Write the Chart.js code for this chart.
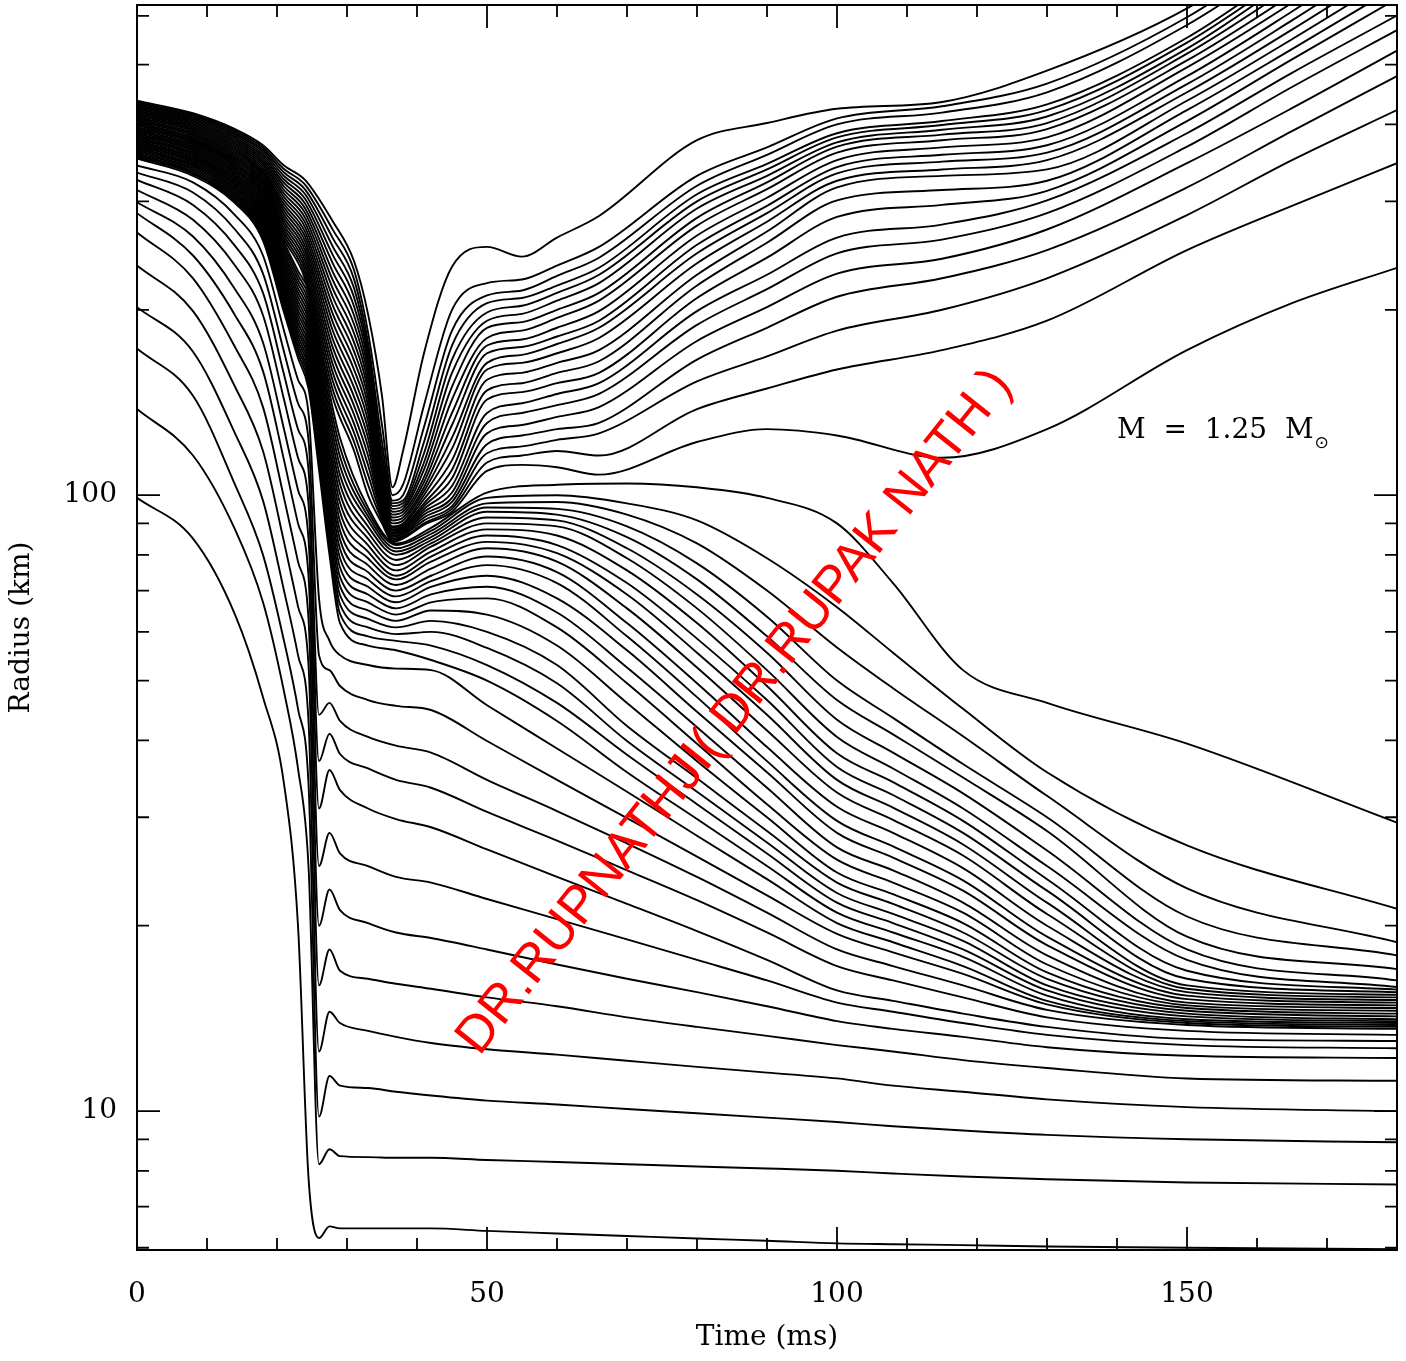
<!DOCTYPE html>
<html>
<head>
<meta charset="utf-8">
<title>Mass shell trajectories, M = 1.25 Msun</title>
<script src="https://cdn.jsdelivr.net/npm/chart.js@4.4.0/dist/chart.umd.min.js"></script>
<style>
  html, body { margin: 0; padding: 0; background: #fff; }
  #wrap { width: 1406px; height: 1361px; }
</style>
</head>
<body>
<div id="wrap"><canvas id="chart"></canvas></div>
<script>
// time samples (ms) for the shells that end up in the core
const innerTimes = [0, 8, 14, 18, 21, 23, 24.5, 26, 27.5, 29, 33, 37, 42, 50, 60, 70, 80, 90, 100, 108, 118, 130, 150, 180];

// radius (km) of each inner shell, innermost first
const innerShells = [
  [99, 85, 64, 47, 34, 20, 7.8, 6.22, 6.5, 6.45, 6.45, 6.45, 6.45, 6.39, 6.33, 6.27, 6.21, 6.16, 6.1, 6.08, 6.06, 6.03, 6.0, 5.97],
  [138, 116, 88, 67, 48, 36, 25, 8.2, 8.67, 8.45, 8.42, 8.4, 8.4, 8.33, 8.27, 8.2, 8.13, 8.07, 8.0, 7.92, 7.83, 7.75, 7.66, 7.6],
  [173, 145, 104, 80, 58, 45, 34, 9.8, 11.4, 11.0, 10.9, 10.75, 10.6, 10.4, 10.25, 10.08, 9.92, 9.76, 9.6, 9.45, 9.3, 9.15, 9.0, 8.9],
  [202, 171, 126, 98, 70, 55, 43, 12.5, 14.5, 13.9, 13.5, 13.2, 12.9, 12.6, 12.35, 12.07, 11.8, 11.55, 11.3, 11.0, 10.75, 10.45, 10.15, 10.0],
  [236, 199, 150, 118, 84, 66, 53, 16, 18.3, 16.9, 16.4, 16.1, 15.8, 15.3, 14.8, 14.2, 13.7, 13.25, 12.8, 12.5, 12.1, 11.75, 11.3, 11.2],
  [267, 225, 174, 139, 99, 78, 63, 20, 22.9, 21.2, 20.2, 19.5, 19.1, 18.3, 17.3, 16.4, 15.6, 14.8, 14.0, 13.6, 13.2, 12.7, 12.3, 12.2],
  [287, 245, 196, 159, 114, 90, 74, 25, 28.3, 26.2, 25, 24, 23.5, 22.1, 20.5, 19.0, 17.6, 16.3, 15.0, 14.5, 13.9, 13.3, 12.8, 12.65],
  [299, 263, 216, 177, 128, 102, 85, 31, 35.8, 33.2, 31, 29.8, 28.9, 26.6, 24.0, 21.7, 19.6, 17.6, 15.7, 15.1, 14.4, 13.7, 13.1, 13.0],
  [313, 280, 236, 196, 143, 115, 97, 37, 41, 38, 36, 34.5, 33.5, 30.6, 27.5, 24.6, 22.0, 19.5, 17.2, 16.3, 15.3, 14.2, 13.5, 13.3],
  [325, 296, 254, 213, 157, 128, 110, 44, 46, 43, 40.5, 39.2, 38.2, 34.5, 30.7, 27.2, 24.0, 21.0, 18.3, 17.2, 16.0, 14.6, 13.8, 13.6],
  [334, 310, 270, 229, 171, 141, 123, 55, 52, 49, 46.5, 45.5, 44.8, 39.9, 34.5, 29.9, 25.9, 22.4, 19.4, 18.1, 16.7, 14.9, 13.9, 13.7],
  [343, 322, 285, 245, 185, 154, 136, 68, 58, 55, 53, 52.3, 52, 45.6, 38.8, 33.0, 28.0, 23.8, 20.2, 18.8, 17.2, 15.1, 14.0, 13.8],
  [352, 330, 298, 259, 198, 167, 149, 110, 80, 62, 57, 56, 54, 50, 43, 35.5, 29.8, 25.0, 21.0, 19.5, 17.8, 15.4, 14.1, 13.9],
  [353.8, 332.0, 299.9, 261.1, 200.6, 169.8, 151.8, 112.7, 82.4, 64.2, 59, 58, 57, 53, 46, 37.9, 31.5, 26.2, 21.8, 20.2, 18.3, 15.7, 14.25, 14.0],
  [355.6, 333.8, 301.9, 263.3, 203.2, 172.6, 154.6, 115.4, 84.9, 66.5, 61, 59.5, 60, 56.5, 49.5, 39.9, 33.0, 27.3, 22.6, 20.9, 18.9, 16.0, 14.4, 14.1],
  [357.4, 335.7, 303.9, 265.6, 205.9, 175.4, 157.4, 118.3, 87.5, 68.8, 63, 61, 62.5, 60, 53, 42.2, 34.7, 28.5, 23.5, 21.7, 19.5, 16.4, 14.55, 14.25],
  [359.3, 337.6, 305.9, 267.8, 208.6, 178.3, 160.3, 121.2, 90.2, 71.2, 65, 62.5, 65, 64, 57, 46, 37, 30, 24.4, 22.5, 20.2, 16.8, 14.7, 14.4],
  [361.1, 339.5, 307.9, 270.1, 211.4, 181.2, 163.3, 124.1, 93.0, 73.7, 67, 64, 67, 68, 61, 49.5, 39.5, 31.5, 25.6, 23.5, 21.0, 17.3, 14.85, 14.55],
  [363.0, 341.4, 309.9, 272.4, 214.2, 184.2, 166.3, 127.2, 95.8, 76.3, 69, 65.5, 69, 71, 64.5, 52.5, 42, 33.5, 26.8, 24.6, 21.8, 17.9, 15.0, 14.7],
  [364.9, 343.3, 312.0, 274.8, 217.0, 187.2, 169.3, 130.3, 98.8, 79.0, 71, 67, 71, 74, 68, 56, 44.5, 35.5, 28.3, 25.8, 22.8, 18.6, 15.2, 14.85],
  [366.8, 345.2, 314.0, 277.1, 219.8, 190.3, 172.5, 133.5, 101.8, 81.8, 73, 68.5, 72.5, 77, 72, 59, 47, 37, 29.6, 26.9, 23.7, 19.2, 15.4, 15.0],
  [368.7, 347.1, 316.1, 279.5, 222.7, 193.4, 175.6, 136.8, 104.9, 84.7, 75, 70, 74, 79.5, 75, 62, 49.5, 39, 31.2, 28.3, 24.8, 20.0, 15.6, 15.15],
  [370.6, 349.0, 318.2, 281.9, 225.7, 196.6, 178.9, 140.1, 108.2, 87.6, 77, 71.5, 76, 82, 78, 65.5, 52.5, 41.5, 32.9, 29.7, 26.0, 20.9, 15.8, 15.3],
  [372.5, 351.0, 320.3, 284.3, 228.6, 199.8, 182.2, 143.6, 111.5, 90.7, 79, 73, 78, 84, 80.5, 69, 55.5, 44, 34.5, 31.1, 27.1, 21.8, 16.0, 15.45],
  [374.4, 352.9, 322.4, 286.7, 231.6, 203.1, 185.5, 147.1, 114.9, 93.9, 81, 74, 79.5, 86, 83, 72, 58.5, 46.5, 36.2, 32.6, 28.3, 22.8, 16.4, 15.6],
  [376.3, 354.9, 324.6, 289.1, 234.7, 206.4, 188.9, 150.7, 118.4, 97.2, 83, 75.5, 81, 88, 86, 75.5, 62, 49, 38.1, 34.2, 29.6, 23.8, 16.9, 15.75],
  [378.3, 356.9, 326.7, 291.6, 237.8, 209.8, 192.4, 154.4, 122.0, 100.6, 85, 77, 82.5, 90, 89, 79, 65.5, 52, 40.5, 36.0, 31.0, 25, 17.6, 15.9],
  [380.2, 358.9, 328.9, 294.1, 240.9, 213.2, 196.0, 158.2, 125.8, 104.2, 87, 78.5, 83.5, 92, 91, 82, 69, 55.5, 43.2, 38.2, 32.8, 26.5, 18.3, 16.3],
  [382.2, 360.9, 331.1, 296.6, 244.1, 216.7, 199.6, 162.0, 129.6, 107.8, 89, 80, 84.5, 94, 93, 85.5, 73, 59, 46.5, 40.9, 34.8, 28.5, 19.2, 17.0],
  [384.2, 362.9, 333.3, 299.1, 247.3, 220.3, 203.3, 166.0, 133.6, 111.6, 91, 81, 85.5, 95.5, 95, 89, 77.5, 63.5, 50, 43.5, 36.6, 30, 20.7, 17.9],
  [386.2, 364.9, 335.5, 301.7, 250.6, 223.9, 207.0, 170.1, 137.7, 115.6, 92.5, 82, 86.5, 97, 97.5, 93, 83.5, 70, 56.6, 48.6, 40.6, 32.5, 23, 18.8],
  [388.2, 367.0, 337.7, 304.3, 253.9, 227.6, 210.8, 174.2, 141.9, 119.6, 94, 83, 87.5, 99, 100, 97, 91, 79, 65.8, 55.5, 45, 35.5, 27, 21.3],
  [390.2, 369.0, 339.9, 306.9, 257.2, 231.3, 214.7, 178.5, 146.3, 123.8, 95.5, 83.5, 88.5, 101, 104, 104.5, 103, 99, 90, 72, 52, 46, 39.5, 29.4]
];

// time samples (ms) for the shells that are pushed out
const outerTimes = [0, 8, 14, 18, 21, 24, 28, 31, 33, 35, 36.5, 38, 41, 45, 50, 55, 60, 66, 80, 90, 100, 115, 130, 150, 165, 180];

// radius (km) of each outer shell, outermost first
const outerShells = [
  [437, 417, 393, 370, 343, 325, 278, 240, 197, 145, 103, 118, 170, 235, 253, 244, 262, 284, 377, 402, 424, 435, 489, 617, 800, 1060],
  [434.8, 414.7, 390.4, 366.9, 338.5, 319.3, 269.4, 232.0, 184, 130, 100, 104, 140, 200, 221, 224, 236, 253, 330, 367, 409, 428, 466, 597, 775, 1020],
  [432.5, 412.4, 387.8, 363.8, 334.1, 313.7, 261.0, 224.3, 177, 122, 98, 100, 129, 185, 211, 215, 227, 243, 318, 357, 400, 418, 451, 580, 750, 990],
  [430.3, 410.1, 385.3, 360.7, 329.8, 308.3, 252.9, 216.9, 172, 117, 97, 98, 122, 175, 205, 209, 219, 234, 308, 345, 387, 405, 431, 553, 720, 955],
  [428.1, 407.8, 382.8, 357.6, 325.5, 302.9, 245.1, 209.7, 168, 113, 96, 97, 117, 166, 198, 203, 213, 228, 300, 338, 381, 399, 422, 543, 705, 930],
  [425.9, 405.6, 380.2, 354.6, 321.3, 297.6, 237.5, 202.7, 164, 110, 95, 96, 113, 158, 192, 197, 207, 221, 292, 330, 374, 392, 412, 531, 690, 905],
  [423.7, 403.3, 377.7, 351.6, 317.1, 292.4, 230.1, 196.0, 160, 108, 94, 95, 110, 150, 187, 191, 200, 213, 282, 322, 368, 385, 402, 521, 670, 880],
  [421.5, 401.1, 375.2, 348.6, 313.0, 287.3, 223.0, 189.5, 156, 106, 93, 94, 107, 143, 180, 185, 194, 207, 274, 314, 360, 377, 393, 508, 650, 850],
  [419.4, 398.9, 372.8, 345.7, 308.9, 282.3, 216.1, 183.2, 152, 104.5, 92, 93, 105, 136, 175, 179, 187, 199, 264, 304, 350, 367, 381, 495, 630, 820],
  [417.2, 396.7, 370.3, 342.7, 304.9, 277.3, 209.4, 177.1, 148, 103, 91, 92, 103, 130, 170, 174, 181, 192, 255, 295, 341, 357, 370, 479, 610, 790],
  [415.1, 394.5, 367.9, 339.8, 300.9, 272.5, 202.9, 171.2, 144, 101.5, 90, 91, 101.5, 124, 164, 169, 176, 187, 247, 287, 333, 348, 360, 465, 590, 760],
  [412.9, 392.3, 365.5, 336.9, 297.0, 267.7, 196.6, 165.5, 140, 100, 89, 90, 100, 119, 160, 164, 170, 180, 238, 278, 324, 338, 350, 451, 570, 730],
  [410.8, 390.1, 363.1, 334.1, 293.2, 263.1, 190.5, 160.0, 136, 99, 88.5, 89.5, 98.5, 114, 154, 158, 164, 172, 228, 268, 316, 330, 338, 437, 550, 700],
  [408.7, 387.9, 360.7, 331.3, 289.4, 258.5, 184.6, 154.7, 132, 98, 88, 89, 97, 110, 148, 152, 158, 165, 219, 257, 301, 313, 324, 422, 530, 670],
  [406.6, 385.8, 358.3, 328.5, 285.6, 254.0, 178.8, 149.6, 128, 97, 87.5, 88.5, 96, 106.5, 143, 147, 152, 158, 209, 243, 283, 296, 312, 405, 510, 640],
  [404.5, 383.7, 356.0, 325.7, 281.9, 249.5, 173.3, 144.6, 124, 96, 87, 88, 95, 103.5, 136, 141, 146, 152, 199, 228, 262, 275, 301, 387, 485, 601],
  [402.4, 381.5, 353.6, 322.9, 278.2, 245.2, 167.9, 139.8, 120, 95, 86.5, 87.5, 94, 101, 131, 136, 140, 146, 189, 216, 247, 260, 287, 368, 460, 569],
  [400.3, 379.4, 351.3, 320.2, 274.6, 240.9, 162.7, 135.2, 116, 94, 86, 87, 93, 99, 126, 130, 134, 139, 178, 202, 229, 242, 270, 346, 425, 527],
  [398.3, 377.3, 349.0, 317.5, 271.0, 236.7, 157.7, 130.7, 112, 93, 85.5, 86.5, 92, 97.5, 121, 125, 128, 131, 166, 187, 210, 225, 250, 316, 390, 479],
  [396.2, 375.2, 346.7, 314.8, 267.5, 232.6, 152.8, 126.3, 108, 92, 85, 86, 91, 96, 117, 120, 123, 126, 153, 168, 185, 200, 225, 285, 350, 422],
  [394.2, 373.1, 344.4, 312.1, 264.0, 228.5, 148.0, 122.1, 104, 91, 84.5, 85.5, 90, 95, 113, 116, 118, 116, 138, 149, 160, 172, 192, 250, 295, 346],
  [392.2, 371.1, 342.2, 309.5, 260.6, 224.5, 143.5, 118.1, 100, 90, 84, 85, 89.5, 94, 109.5, 112, 111, 108, 122, 128, 125, 115, 128, 172, 205, 234]
];

// labelled ticks
const timeTicks = [0, 50, 100, 150];
const radiusTicks = [10, 100];
// small tick marks on the log axis
const radiusMarks = [6, 7, 8, 9, 10, 20, 30, 40, 50, 60, 70, 80, 90, 100, 200, 300, 400, 500, 600];

const serif = "'DejaVu Serif', 'Liberation Serif', serif";

function shellDataset(times, radii) {
  return {
    data: times.map((t, i) => ({ x: t, y: radii[i] })),
    borderColor: '#000',
    borderWidth: 1.9,
    pointRadius: 0,
    fill: false,
    cubicInterpolationMode: 'monotone'
  };
}

let datasets = [];
innerShells.forEach(r => datasets.push(shellDataset(innerTimes, r)));
outerShells.forEach(r => datasets.push(shellDataset(outerTimes, r)));

// box, inward ticks, label and overlay text
const decorations = {
  id: 'decorations',
  afterDraw(chart) {
    const ctx = chart.ctx;
    const a = chart.chartArea;
    const x = chart.scales.x, y = chart.scales.y;
    ctx.save();
    ctx.strokeStyle = '#000';
    ctx.lineWidth = 2;
    ctx.strokeRect(a.left, a.top, a.right - a.left, a.bottom - a.top);

    ctx.lineWidth = 1.8;
    ctx.beginPath();
    for (let t = 10; t < 180; t += 10) {
      let px = x.getPixelForValue(t);
      let len = t % 50 === 0 ? 23 : 12;
      ctx.moveTo(px, a.bottom); ctx.lineTo(px, a.bottom - len);
      ctx.moveTo(px, a.top); ctx.lineTo(px, a.top + len);
    }
    radiusMarks.forEach(v => {
      let py = y.getPixelForValue(v);
      let len = radiusTicks.includes(v) ? 23 : 12;
      ctx.moveTo(a.left, py); ctx.lineTo(a.left + len, py);
      ctx.moveTo(a.right, py); ctx.lineTo(a.right - len, py);
    });
    ctx.stroke();

    // mass label
    let lx = x.getPixelForValue(140);
    let ly = y.getPixelForValue(124);
    ctx.fillStyle = '#000';
    ctx.font = '28px ' + serif;
    ctx.textAlign = 'left';
    ctx.textBaseline = 'alphabetic';
    let label = 'M  =  1.25  M';
    ctx.fillText(label, lx, ly);
    let w = ctx.measureText(label).width;
    ctx.font = "17px 'DejaVu Sans', sans-serif";
    ctx.fillText('\u2299', lx + w + 1, ly + 10);

    // red diagonal overlay text
    ctx.translate(735, 712);
    ctx.rotate(-51.5 * Math.PI / 180);
    ctx.fillStyle = '#ff0000';
    ctx.font = "52px 'Liberation Sans', Arial, sans-serif";
    ctx.textAlign = 'center';
    ctx.textBaseline = 'middle';
    ctx.fillText('DR.RUPNATHJI( DR.RUPAK NATH )', 0, 0);
    ctx.restore();
  }
};

new Chart(document.getElementById('chart'), {
  type: 'line',
  data: { datasets: datasets },
  options: {
    responsive: true,
    maintainAspectRatio: false,
    devicePixelRatio: 1,
    animation: false,
    events: [],
    layout: { padding: { top: 5, right: 9, bottom: 0, left: 0 } },
    plugins: { legend: { display: false }, tooltip: { enabled: false } },
    scales: {
      x: {
        type: 'linear',
        min: 0,
        max: 180,
        grid: { display: false, drawTicks: false },
        border: { display: false },
        afterBuildTicks: s => { s.ticks = timeTicks.map(v => ({ value: v })); },
        afterFit: s => { s.height = 111; s.paddingLeft = 0; s.paddingRight = 0; },
        ticks: { color: '#000', font: { family: serif, size: 28 }, padding: 28, maxRotation: 0 },
        title: { display: true, text: 'Time (ms)', color: '#000', font: { family: serif, size: 28 }, padding: { top: 0, bottom: 6 } }
      },
      y: {
        type: 'logarithmic',
        min: 5.95,
        max: 625,
        grid: { display: false, drawTicks: false },
        border: { display: false },
        afterBuildTicks: s => { s.ticks = radiusTicks.map(v => ({ value: v })); },
        afterFit: s => { s.width = 137; s.paddingTop = 0; s.paddingBottom = 0; },
        ticks: { color: '#000', font: { family: serif, size: 28 }, padding: 20, callback: v => String(v) },
        title: { display: true, text: 'Radius (km)', color: '#000', font: { family: serif, size: 28 }, padding: { top: 5, bottom: 0 } }
      }
    }
  },
  plugins: [decorations]
});
</script>
</body>
</html>
